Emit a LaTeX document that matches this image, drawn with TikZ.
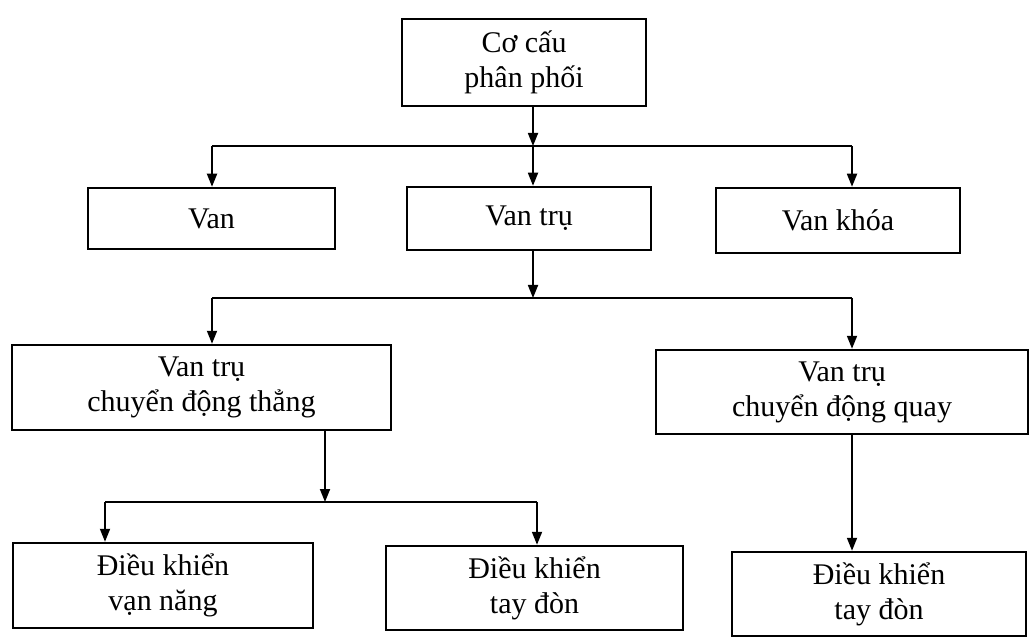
\documentclass[tikz,border=0pt]{standalone}
\usepackage{fontspec}
\setmainfont{Liberation Serif}
\usetikzlibrary{arrows.meta}

\tikzset{
  khoi/.style={draw, line width=1.25pt, align=center, inner sep=0pt,
    font=\fontsize{15}{17.5}\selectfont},
  muiten/.style={line width=0.9pt, -{Triangle[length=6.5pt,width=5pt]}},
  duong/.style={line width=0.9pt}
}

\begin{document}
\begin{tikzpicture}[x=0.5pt,y=-0.5pt]

\useasboundingbox (0,0) rectangle (1031,641);

% cac khoi
\node[khoi, minimum width=122pt, minimum height=43.5pt] (coCau) at (524,62.5) {Cơ cấu\\phân phối};

\node[khoi, minimum width=123.5pt, minimum height=30.5pt] (van) at (211.5,218.5) {Van};
\node[khoi, minimum width=122pt, minimum height=31.5pt] (vanTru) at (529,218.5) {Van trụ};
\node[khoi, minimum width=122pt, minimum height=32.5pt] (vanKhoa) at (838,220.5) {Van khóa};

\node[khoi, minimum width=189.5pt, minimum height=42.5pt] (thang) at (201.5,387.5) {Van trụ\\chuyển động thẳng};
\node[khoi, minimum width=186pt, minimum height=42pt] (quay) at (842,392) {Van trụ\\chuyển động quay};

\node[khoi, minimum width=150pt, minimum height=42.5pt] (vanNang) at (163,585.5) {Điều khiển\\vạn năng};
\node[khoi, minimum width=148.5pt, minimum height=42pt] (tayDon) at (534.5,588) {Điều khiển\\tay đòn};
\node[khoi, minimum width=147pt, minimum height=42pt] (tayDonQ) at (879,594) {Điều khiển\\tay đòn};

% diem re nhanh
\coordinate (r1) at (533,146);
\coordinate (r1t) at (212,146);
\coordinate (r1p) at (852,146);

\coordinate (r2) at (533,298);
\coordinate (r2t) at (212,298);
\coordinate (r2p) at (852,298);

\coordinate (r3) at (325,502);
\coordinate (r3t) at (105,502);
\coordinate (r3p) at (537,502);

% muc 1
\draw[muiten] (coCau.south -| r1) -- (r1);
\draw[duong] (r1t) -- (r1p);
\draw[muiten] (r1t) -- (van.north -| r1t);
\draw[muiten] (r1) -- (vanTru.north -| r1);
\draw[muiten] (r1p) -- (vanKhoa.north -| r1p);

% muc 2
\draw[muiten] (vanTru.south -| r2) -- (r2);
\draw[duong] (r2t) -- (r2p);
\draw[muiten] (r2t) -- (thang.north -| r2t);
\draw[muiten] (r2p) -- (quay.north -| r2p);

% muc 3
\draw[muiten] (thang.south -| r3) -- (r3);
\draw[duong] (r3t) -- (r3p);
\draw[muiten] (r3t) -- (vanNang.north -| r3t);
\draw[muiten] (r3p) -- (tayDon.north -| r3p);
\draw[muiten] (quay.south -| r2p) -- (tayDonQ.north -| r2p);

\end{tikzpicture}
\end{document}
